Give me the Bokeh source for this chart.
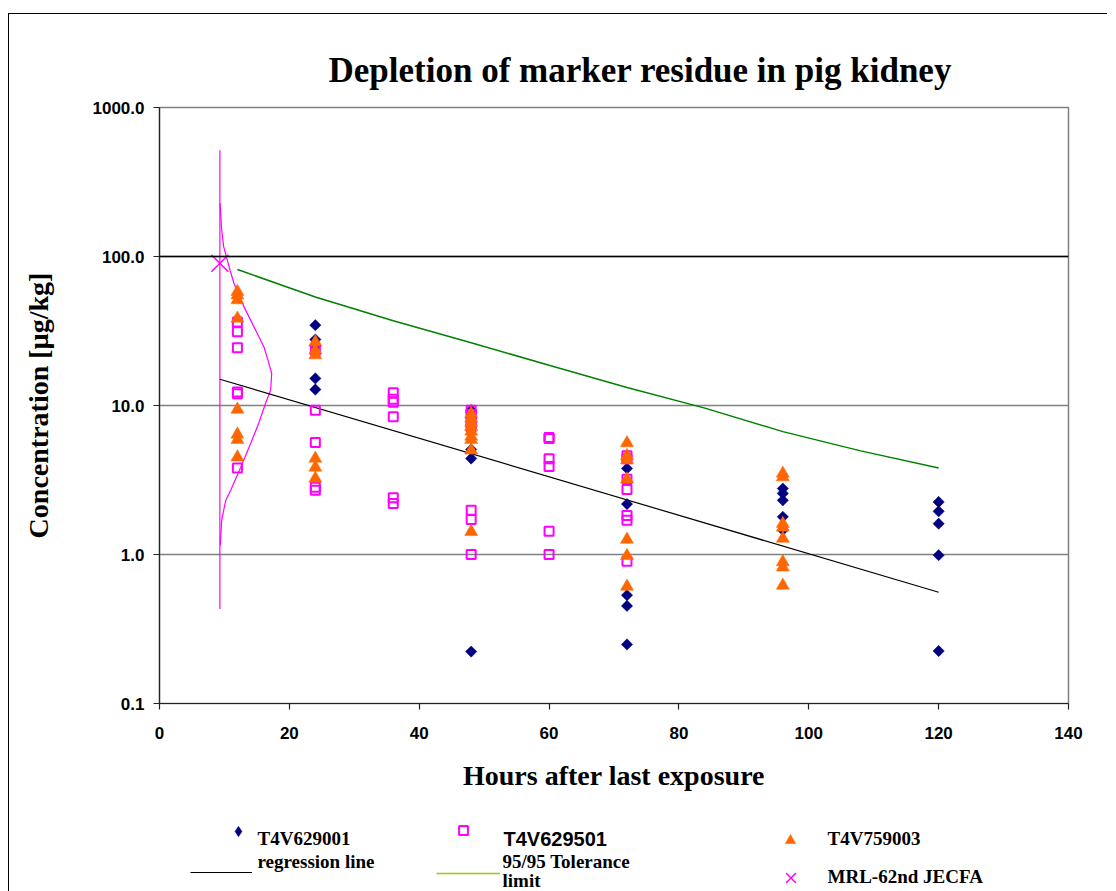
import numpy as np
from bokeh.plotting import figure
from bokeh.layouts import column
from bokeh.models import (Range1d, FixedTicker, PrintfTickFormatter, Label, Legend,
                          LegendItem, Span)
from bokeh.embed import file_html
from bokeh.resources import INLINE

# ---------------- data ----------------
hours_a = [24, 24, 24, 24, 24,
           48, 48, 48, 48, 48, 48,
           72, 72, 72, 72, 72,
           96, 96, 96, 96, 96,
           120, 120, 120, 120, 120]
conc_a = [34.6, 27.7, 25.0, 15.2, 12.8,
          9.3, 9.0, 8.2, 5.07, 4.41, 0.223,
          3.78, 2.18, 0.533, 0.452, 0.249,
          2.77, 2.57, 2.31, 1.79, 1.46,
          2.25, 1.95, 1.61, 0.99, 0.225]

hours_b = [12, 12, 12, 12, 12, 12,
           24, 24, 24, 24, 24,
           36, 36, 36, 36, 36, 36,
           48, 48, 48, 48, 48, 48, 48,
           60, 60, 60, 60, 60, 60,
           72, 72, 72, 72, 72, 72, 72]
conc_b = [36.4, 31.2, 24.4, 12.3, 12.0, 3.8,
          23.5, 9.3, 5.65, 2.83, 2.7,
          12.2, 11.0, 10.5, 8.4, 2.4, 2.2,
          9.3, 8.7, 7.6, 7.2, 1.98, 1.72, 1.0,
          6.1, 6.0, 4.4, 3.9, 1.43, 1.0,
          4.6, 4.4, 3.2, 2.73, 1.83, 1.70, 0.90]

hours_c = [12, 12, 12, 12, 12, 12, 12, 12,
           24, 24, 24, 24, 24, 24,
           48, 48, 48, 48, 48, 48, 48, 48, 48,
           72, 72, 72, 72, 72, 72, 72,
           96, 96, 96, 96, 96, 96, 96, 96]
conc_c = [58, 55, 51, 38.4, 9.4, 6.4, 5.9, 4.5,
          26.7, 23.5, 21.8, 4.41, 3.84, 3.24,
          8.8, 8.2, 7.7, 7.2, 6.7, 6.2, 5.9, 5.0, 1.42,
          5.6, 4.6, 4.3, 3.2, 1.26, 0.98, 0.61,
          3.5, 3.31, 1.61, 1.52, 1.28, 0.89, 0.82, 0.62]

reg_hours = [9.3, 120]
reg_conc = [15.0, 0.558]

tol_hours = [12, 24, 36, 48, 60, 72, 84, 96, 108, 120]
tol_conc = [81.8, 53.5, 37.0, 26.4, 18.6, 13.2, 9.6, 6.68, 4.96, 3.81]

dist_hours = [9.32, 9.58, 9.89, 10.86, 11.48, 13.02, 14.55, 16.09, 16.86, 17.28,
              17.12, 16.35, 15.28, 14.05, 12.51, 10.97, 10.20, 9.58, 9.35]
dist_conc = [228, 150, 116, 80.9, 65.9, 45.9, 33.7, 24.7, 19.1, 16.4,
             12.7, 10.4, 7.6, 5.58, 3.85, 2.70, 2.31, 1.70, 1.15]

vline_hours = [9.3, 9.3]
vline_conc = [517, 0.43]

mrl_hours = [9.3]
mrl_conc = [90]

x_ticks = [0, 20, 40, 60, 80, 100, 120, 140]
y_ticks = [0.1, 1, 10, 100, 1000]

title_text = "Depletion of marker residue in pig kidney"
x_label = "Hours after last exposure"
y_label = "Concentration [µg/kg]"
legend_names = ["T4V629001", "T4V629501", "T4V759003",
                "regression line", "95/95 Tolerance", "limit", "MRL-62nd JECFA"]

# ---------------- geometry ----------------
W = 1098
H1 = 790            # main chart canvas height
H2 = 87             # legend strip height
FL, FR, FT = 150, 39, 93
FB = H1 - FT - 596
PAGE_X0, PAGE_Y0 = 9, 14        # page position of the canvas (after margin + border)
FRAME_LEFT = PAGE_X0 + FL       # frames of both figures are aligned by the column
LEG_BOTTOM = PAGE_Y0 + H1 + H2

C_NAVY = "#000080"
C_MAG = "#FF00FF"
C_ORANGE = "#FF6600"
C_GREEN = "#008000"
C_LEGGREEN = "#99CC00"

# ---------------- main chart ----------------
p = figure(width=W, height=H1, x_range=Range1d(0, 140), y_range=Range1d(0.1, 1000),
           y_axis_type="log", output_backend="svg", toolbar_location=None,
           min_border_left=FL, min_border_right=FR, min_border_top=FT, min_border_bottom=FB)
p.background_fill_color = "white"
p.border_fill_color = "white"
p.outline_line_color = "#808080"
p.outline_line_width = 1.5

p.title.text = title_text
p.title.align = "left"
p.title.offset = 169
p.title.standoff = 36
p.title.text_font = "Liberation Serif"
p.title.text_font_style = "bold"
p.title.text_font_size = "35px"
p.title.text_color = "black"

p.xgrid.visible = False
p.ygrid.ticker = FixedTicker(ticks=y_ticks)
p.ygrid.grid_line_color = "#808080"
p.ygrid.grid_line_width = 1.5

p.xaxis.ticker = FixedTicker(ticks=x_ticks)
p.yaxis.ticker = FixedTicker(ticks=y_ticks)
p.yaxis.formatter = PrintfTickFormatter(format="%.1f")
for ax in (p.xaxis, p.yaxis):
    ax.axis_line_color = "#222222"
    ax.axis_line_width = 1.2
    ax.major_tick_line_color = "#222222"
    ax.major_tick_line_width = 1.2
    ax.major_tick_out = 6
    ax.major_tick_in = 0
    ax.minor_tick_line_color = None
    ax.major_label_text_font = "Liberation Sans"
    ax.major_label_text_font_style = "bold"
    ax.major_label_text_font_size = "17px"
    ax.major_label_text_color = "black"
    ax.axis_label_text_font = "Liberation Serif"
    ax.axis_label_text_font_style = "bold"
    ax.axis_label_text_font_size = "28px"
    ax.axis_label_text_color = "black"
p.xaxis.major_label_standoff = 17
p.yaxis.major_label_standoff = 9
p.xaxis.axis_label = x_label
p.yaxis.axis_label = y_label
p.xaxis.axis_label_standoff = 18
p.yaxis.axis_label_standoff = 36

p.add_layout(Span(location=100, dimension="width", line_color="black", line_width=1.5))

p.line(vline_hours, vline_conc, line_color=C_MAG, line_width=1.2)
p.line(dist_hours, dist_conc, line_color=C_MAG, line_width=1.2)
p.line(reg_hours, reg_conc, line_color="black", line_width=1.2)
p.line(tol_hours, tol_conc, line_color=C_GREEN, line_width=1.5)

p.scatter(hours_a, conc_a, marker="square", angle=np.pi / 4, size=8,
          fill_color=C_NAVY, line_color=C_NAVY, line_width=0.5)
p.scatter(hours_b, conc_b, marker="square", size=9, fill_color=None,
          line_color=C_MAG, line_width=2)
p.scatter(hours_c, conc_c, marker="triangle", size=13, fill_color=C_ORANGE,
          line_color=C_ORANGE, line_width=0.5)
p.scatter(mrl_hours, mrl_conc, marker="x", size=24, line_color=C_MAG, line_width=1.5)

# ---------------- legend strip ----------------
# its y range lies below zero, so the series drawn here stay out of view and only
# their legend swatches appear
lg = figure(width=W, height=H2, x_range=Range1d(0, 140), y_range=Range1d(-2, -1),
            x_axis_type=None, y_axis_type=None, output_backend="svg",
            toolbar_location=None, min_border=0)
lg.outline_line_color = None
lg.background_fill_color = "white"
lg.border_fill_color = "white"
lg.grid.visible = False

k_a = lg.scatter(hours_a, conc_a, marker="diamond", fill_color=C_NAVY,
                 line_color=C_NAVY, line_width=0.5)
k_b = lg.scatter(hours_b, conc_b, marker="square", fill_color=None, line_color=C_MAG,
                 line_width=2)
k_c = lg.scatter(hours_c, conc_c, marker="triangle", fill_color=C_ORANGE,
                 line_color=C_ORANGE, line_width=0.5)
k_r = lg.line(reg_hours, reg_conc, line_color="black", line_width=1.2)
k_t = lg.line(tol_hours, tol_conc, line_color=C_LEGGREEN, line_width=1.5)
k_m = lg.scatter(mrl_hours, mrl_conc, marker="x", line_color=C_MAG, line_width=1.5)


def fx(px):
    return px - FRAME_LEFT


def fy(py):
    return LEG_BOTTOM - py


def swatch(renderer, gx, gy, gw, gh):
    lg.add_layout(Legend(items=[LegendItem(label=" ", renderers=[renderer])],
                         location=(fx(gx) - gw / 2, fy(gy) - gh / 2),
                         glyph_width=gw, glyph_height=gh, padding=0, margin=0,
                         spacing=0, label_standoff=0, label_width=0, label_height=gh,
                         label_text_font_size="1px", border_line_color=None,
                         background_fill_alpha=0))


swatch(k_a, 238, 831, 26, 26)
swatch(k_b, 463, 830, 22, 22)
swatch(k_c, 790, 840, 26, 26)
swatch(k_r, 221, 872, 62, 8)
swatch(k_t, 468, 873, 64, 8)
swatch(k_m, 790, 877, 35, 35)


def legend_text(txt, px, py, font="Liberation Serif", size="19px"):
    lg.add_layout(Label(x=fx(px), y=fy(py), x_units="screen", y_units="screen",
                        text=txt, text_align="left", text_baseline="middle",
                        text_font=font, text_font_style="bold",
                        text_font_size=size, text_color="black"))


legend_text(legend_names[0], 257, 838)
legend_text(legend_names[1], 503, 838, font="Liberation Sans", size="20px")
legend_text(legend_names[2], 827, 838)
legend_text(legend_names[3], 257, 861)
legend_text(legend_names[4], 502, 861)
legend_text(legend_names[5], 502, 880)
legend_text(legend_names[6], 827, 876)

layout = column(p, lg, spacing=0,
                styles={"margin-top": "13px", "margin-left": "8px",
                        "border-top": "1px solid #000000",
                        "border-left": "1px solid #000000"})

open("out.html", "w").write(file_html(layout, INLINE))
